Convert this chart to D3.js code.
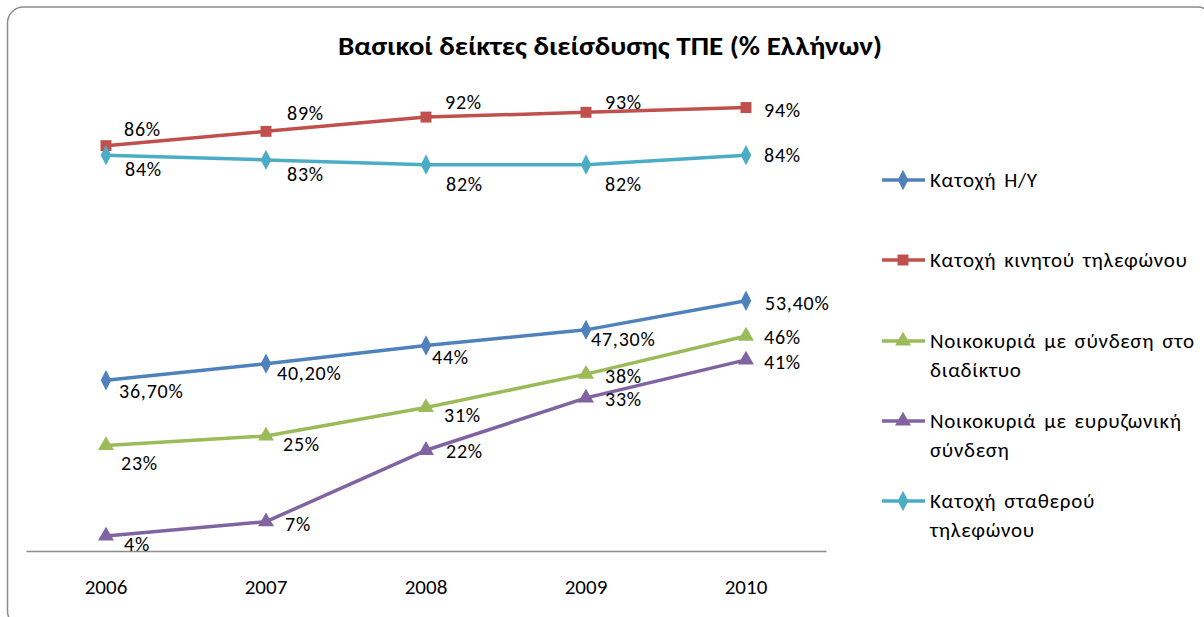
<!doctype html>
<html>
<head>
<meta charset="utf8">
<style>
    body { margin: 0; background: #fff; }
    text { font-family: Carlito, "Open Sans", sans-serif; fill: #000; }
</style>
<script src="https://d3js.org/d3.v7.min.js"></script>
</head>
<body>
<svg width="1204" height="617"></svg>
<script>

    // data
    var years = ["2006", "2007", "2008", "2009", "2010"];
    var seriesNames = [
        "Κατοχή Η/Υ",
        "Κατοχή κινητού τηλεφώνου",
        "Νοικοκυριά με σύνδεση στο διαδίκτυο",
        "Νοικοκυριά με ευρυζωνική σύνδεση",
        "Κατοχή σταθερού τηλεφώνου"
    ];
    var pcValues     = [36.7, 40.2, 44, 47.3, 53.4];
    var mobileValues = [86, 89, 92, 93, 94];
    var internetValues = [23, 25, 31, 38, 46];
    var broadbandValues = [4, 7, 22, 33, 41];
    var landlineValues = [84, 83, 82, 82, 84];
    var pcLabels = ["36,70%", "40,20%", "44%", "47,30%", "53,40%"];

    var legendLines = [
        ["Κατοχή Η/Υ"],
        ["Κατοχή κινητού τηλεφώνου"],
        ["Νοικοκυριά με σύνδεση στο", "διαδίκτυο"],
        ["Νοικοκυριά με ευρυζωνική", "σύνδεση"],
        ["Κατοχή σταθερού", "τηλεφώνου"]
    ];

    // look of each series + where its labels sit relative to the point
    var series = [
        { name: seriesNames[0], values: pcValues, color: "#4F81BD", marker: "diamond",
          labels: pcLabels,
          offs: [[13, 18], [11, 16], [6, 18], [5, 16], [19, 9]] },
        { name: seriesNames[1], values: mobileValues, color: "#C0504D", marker: "square",
          offs: [[18, -10], [21, -11], [19, -8], [19, -3], [18, 9]] },
        { name: seriesNames[2], values: internetValues, color: "#9BBB59", marker: "triangle",
          offs: [[15, 24], [17, 15], [18, 15], [19, 9], [18, 8]] },
        { name: seriesNames[3], values: broadbandValues, color: "#8064A2", marker: "triangle",
          offs: [[18, 15], [19, 9], [20, 8], [19, 8], [18, 9]] },
        { name: seriesNames[4], values: landlineValues, color: "#4BACC6", marker: "diamond",
          offs: [[19, 21], [21, 21], [20, 26], [19, 26], [18, 7]] }
    ];

    var svg = d3.select("svg");

    svg.append("rect")
       .attr("x", 7.5).attr("y", 7)
       .attr("width", 1206).attr("height", 620)
       .attr("rx", 16)
       .attr("fill", "#fff")
       .attr("stroke", "#8c8c8c")
       .attr("stroke-width", 1.5);

    svg.append("text")
       .attr("x", 338)
       .attr("y", 55)
       .attr("font-size", "26px")
       .attr("font-weight", "bold")
       .attr("textLength", 544)
       .attr("lengthAdjust", "spacingAndGlyphs")
       .text("Βασικοί δείκτες διείσδυσης ΤΠΕ (% Ελλήνων)");

    var x = d3.scaleBand().domain(years).range([26, 826]),
        y = d3.scaleLinear().domain([0, 100]).range([555, 79]);

    function cx(i) { return x(years[i]) + x.bandwidth() / 2; }

    // category axis
    var xAxis = svg.append("g")
        .attr("transform", "translate(0,551)")
        .call(d3.axisBottom(x).tickSize(0).tickPadding(28));
    xAxis.select(".domain").attr("stroke", "#8c8c8c").attr("stroke-width", 1.5);
    xAxis.selectAll("text")
         .attr("font-size", "21px")
         .attr("font-family", "Carlito, 'Open Sans', sans-serif")
         .attr("fill", "#000");

    function markerPath(type) {
        if (type === "square") return d3.symbol(d3.symbolSquare, 120)();
        if (type === "triangle") return d3.symbol(d3.symbolTriangle, 110)();
        return d3.symbol(d3.symbolDiamond, 120)();
    }

    var line = d3.line()
        .x(function(d, i) { return cx(i); })
        .y(function(d) { return y(d); });

    series.forEach(function(s) {
        var g = svg.append("g");

        g.append("path")
         .datum(s.values)
         .attr("d", line)
         .attr("fill", "none")
         .attr("stroke", s.color)
         .attr("stroke-width", 3.5)
         .attr("stroke-linejoin", "round");

        g.selectAll(".pt")
         .data(s.values)
         .enter().append("path")
         .attr("d", markerPath(s.marker))
         .attr("transform", function(d, i) {
             var tr = "translate(" + cx(i) + "," + y(d) + ")";
             return s.marker === "diamond" ? tr + " scale(0.9,1)" : tr;
         })
         .attr("fill", s.color);

        g.selectAll(".lbl")
         .data(s.values)
         .enter().append("text")
         .attr("x", function(d, i) { return cx(i) + s.offs[i][0]; })
         .attr("y", function(d, i) { return y(d) + s.offs[i][1]; })
         .attr("font-size", "20px")
         .attr("letter-spacing", "0.8px")
         .text(function(d, i) { return s.labels ? s.labels[i] : d + "%"; });
    });

    // legend
    var legendY = [180, 260, 341, 421, 501];
    series.forEach(function(s, k) {
        var lg = svg.append("g").attr("transform", "translate(882," + legendY[k] + ")");
        lg.append("line")
          .attr("x1", 0).attr("x2", 43)
          .attr("stroke", s.color)
          .attr("stroke-width", 3.5);
        lg.append("path")
          .attr("d", markerPath(s.marker))
          .attr("transform", "translate(21,0)" + (s.marker === "diamond" ? " scale(0.9,1)" : ""))
          .attr("fill", s.color);
        legendLines[k].forEach(function(t, j) {
            lg.append("text")
              .attr("x", 48)
              .attr("y", 7 + j * 29)
              .attr("font-size", "21px")
              .attr("letter-spacing", "0.7px")
              .attr("word-spacing", "2.5px")
              .text(t);
        });
    });

</script>
</body>
</html>
